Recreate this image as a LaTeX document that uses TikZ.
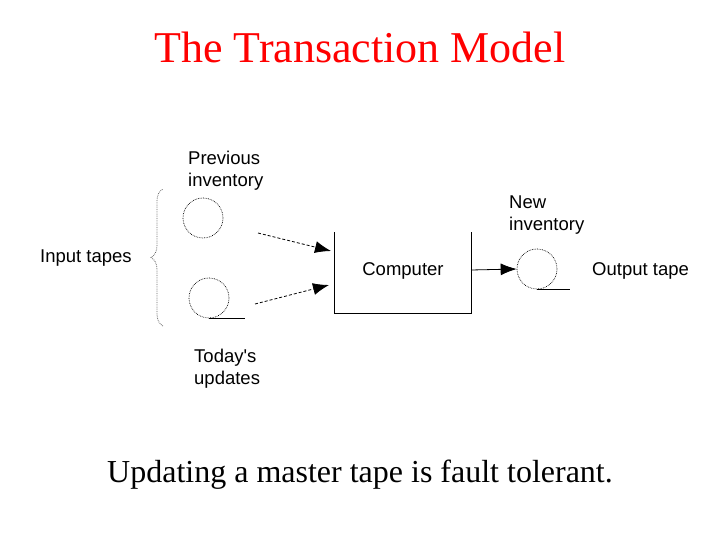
\documentclass[tikz,border=0pt]{standalone}
\usepackage{fontspec}
\setmainfont{Liberation Serif}
\newfontfamily\labelfont{Liberation Sans}
\usetikzlibrary{arrows.meta,decorations.pathreplacing}

\tikzset{
  lbl/.style={font=\labelfont\fontsize{18.5}{22}\selectfont, align=left, inner sep=0pt},
  tape/.style={circle, draw, densely dotted, line width=0.7pt, minimum size=40pt, inner sep=0pt},
  feed/.style={line width=0.8pt, densely dashed, -{Latex[length=16pt,width=12pt]}},
  result/.style={line width=0.8pt, -{Latex[length=16pt,width=12pt]}}
}

\begin{document}
\begin{tikzpicture}[x=1pt,y=-1pt]
        \useasboundingbox (0,0) rectangle (720,540);
        % title and caption
        \node[text=red, font=\fontsize{44}{50}\selectfont] (title) at (360,47) {The Transaction Model};
        \node[font=\fontsize{32}{38}\selectfont] (caption) at (360,475) {Updating a master tape is fault tolerant.};

        % input tapes
        \node[tape] (prev) at (203,218) {};
        \node[tape] (today) at (209,298) {};
        \draw[line width=0.8pt] (today.south) -- ++(36,0);
        \node[lbl, anchor=west] (prevlbl) at (188,171) {Previous\\inventory};
        \node[lbl, anchor=west] (todaylbl) at (194,369) {Today's\\updates};
        \node[lbl, anchor=west] (input) at (40,258) {Input tapes};
        \draw[black!60, line width=0.8pt, densely dotted, decorate, decoration={brace, amplitude=12pt}] (163,326) -- (163,189);

        % computer
        \coordinate (cl) at (334,232);
        \coordinate (cr) at (471,232);
        \draw[line width=0.8pt] (cl) -- (334,313) -- (471,313) -- (cr);
        \node[lbl] (comp) at (403,271) {Computer};

        % output tape
        \node[tape] (new) at (537,269) {};
        \draw[line width=0.8pt] (new.south) -- ++(33,0);
        \node[lbl, anchor=west] (newlbl) at (509,215) {New\\inventory};
        \node[lbl, anchor=west] (output) at (592,271) {Output tape};

        % connectors
        \coordinate (a1) at (258,233);
        \coordinate (a2) at (331,251);
        \coordinate (b1) at (255,304);
        \coordinate (b2) at (329,285);
        \coordinate (c1) at (471,270);
        \draw[feed] (a1) -- (a2);
        \draw[feed] (b1) -- (b2);
        \draw[result] (c1) -- (new.west);
\end{tikzpicture}
\end{document}
